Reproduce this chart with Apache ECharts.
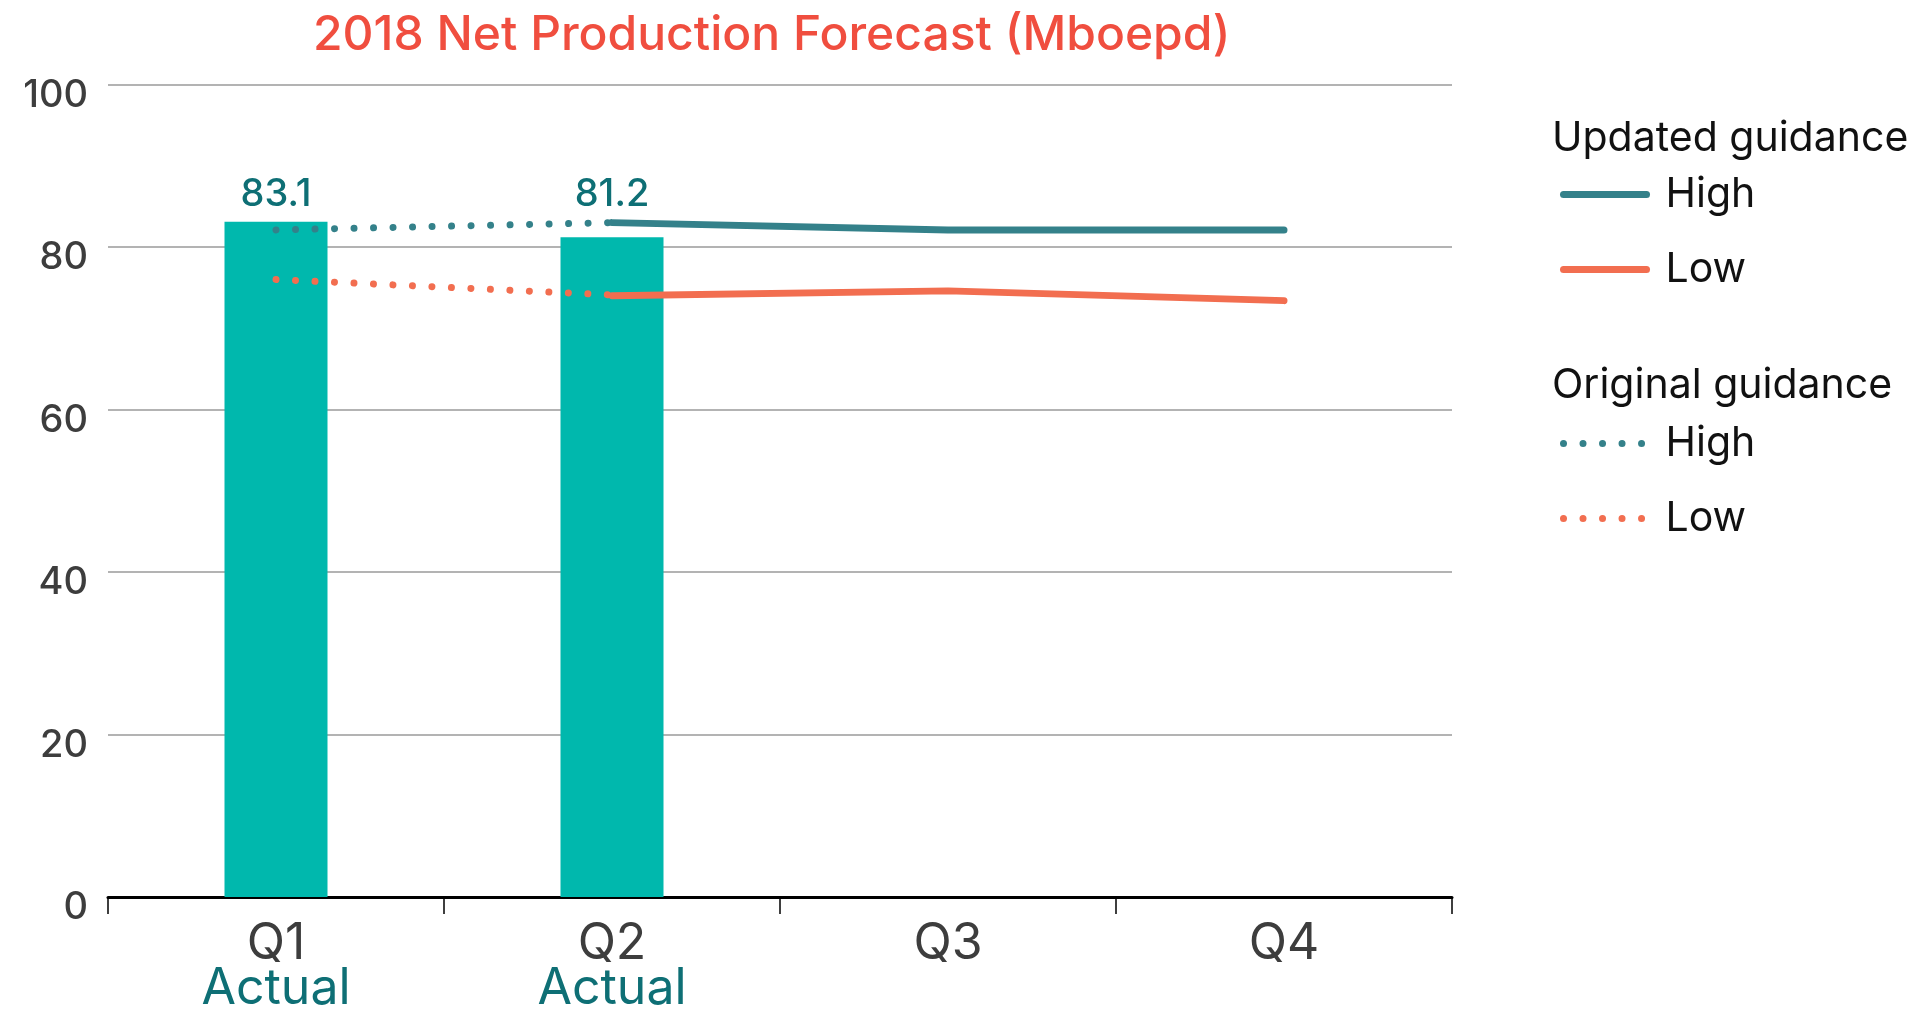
<!DOCTYPE html>
<html>
<head>
<meta charset="utf-8">
<title>2018 Net Production Forecast</title>
<script src="https://cdn.jsdelivr.net/npm/echarts@6/dist/echarts.min.js"></script>
<style>
  html, body { margin: 0; padding: 0; background: #ffffff; }
  #chart { width: 1919px; height: 1012px; }
</style>
</head>
<body>
<div id="chart"></div>
<script>
// Quarters and their sub-captions
const quarters = ['Q1', 'Q2', 'Q3', 'Q4'];
const quarterNotes = ['Actual', 'Actual', '', ''];

// Actual net production (Mboepd)
const actualValues = [83.1, 81.2, null, null];

// Updated guidance range
const updatedHigh = [null, 83.0, 82.1, 82.1];
const updatedLow = [null, 74.0, 74.6, 73.4];

// Original guidance range
const originalHigh = [82.1, 83.0, null, null];
const originalLow = [76.0, 74.1, null, null];

// Y axis
const yTicks = [0, 20, 40, 60, 80, 100];

const FONT = 'Inter, "Open Sans", sans-serif';
const TEAL_BAR = '#00B8AD';
const TEAL_LINE = '#34818A';
const CORAL = '#F26E50';
const TEAL_TEXT = '#0E6F75';
const DOTS = [0.01, 19.5];

// Plot area
const CHART_H = 1012;
const GRID_TOP = 84.5;
const GRID_BOTTOM = 115;
const Y_MIN = yTicks[0];
const Y_MAX = yTicks[yTicks.length - 1];
const PX_PER_UNIT = (CHART_H - GRID_TOP - GRID_BOTTOM) / (Y_MAX - Y_MIN);

// Value labels sit on one common line above the tallest bar
const tallest = Math.max(...actualValues.filter(v => v != null));
const barData = actualValues.map(v => v == null ? null : {
  value: v,
  label: { distance: 8 + (tallest - v) * PX_PER_UNIT }
});

const chart = echarts.init(document.getElementById('chart'), null, { renderer: 'canvas' });

const lineSeries = (name, data, color, dashed, z) => ({
  name: name,
  type: 'line',
  data: data,
  symbol: 'none',
  showSymbol: false,
  connectNulls: false,
  z: z,
  itemStyle: { color: color },
  lineStyle: {
    color: color,
    width: 7,
    type: dashed ? DOTS : 'solid',
    cap: 'round',
    join: 'round'
  },
  emphasis: { disabled: true }
});

const legendBase = {
  orient: 'vertical',
  left: 1560,
  itemWidth: 83,
  itemHeight: 40,
  itemGap: 34,
  padding: 0,
  selectedMode: false,
  formatter: name => name.split(' ')[1],
  itemStyle: { color: 'rgba(0,0,0,0)', borderWidth: 0 },
  textStyle: {
    fontFamily: FONT,
    fontSize: 41,
    color: '#111111',
    padding: [0, 0, 0, 14]
  }
};

chart.setOption({
  animation: false,
  backgroundColor: '#ffffff',
  title: [
    {
      text: '2018 Net Production Forecast (Mboepd)',
      left: 313,
      top: 12,
      padding: 0,
      textStyle: { fontFamily: FONT, fontSize: 48, fontWeight: 500, color: '#F04E3F' }
    },
    {
      text: 'Updated guidance',
      left: 1552,
      top: 118,
      padding: 0,
      textStyle: { fontFamily: FONT, fontSize: 41, fontWeight: 'normal', color: '#111111' }
    },
    {
      text: 'Original guidance',
      left: 1552,
      top: 365,
      padding: 0,
      textStyle: { fontFamily: FONT, fontSize: 41, fontWeight: 'normal', color: '#111111' }
    }
  ],
  legend: [
    Object.assign({}, legendBase, {
      top: 174,
      data: ['Updated High', 'Updated Low'],
      lineStyle: { width: 7, cap: 'round', type: 'solid' }
    }),
    Object.assign({}, legendBase, {
      top: 423,
      data: ['Original High', 'Original Low'],
      lineStyle: { width: 7, cap: 'round', type: DOTS }
    })
  ],
  grid: {
    left: 108,
    right: 467,
    top: GRID_TOP,
    bottom: GRID_BOTTOM,
    containLabel: false,
    outerBoundsMode: 'none'
  },
  xAxis: {
    type: 'category',
    data: quarters,
    boundaryGap: true,
    axisLine: { show: true, lineStyle: { color: '#000000', width: 3 } },
    axisTick: { show: true, length: 17, lineStyle: { color: '#000000', width: 1.5 } },
    axisLabel: {
      margin: 24,
      interval: 0,
      formatter: (value, idx) => quarterNotes[idx]
        ? '{q|' + value + '}\n{a|' + quarterNotes[idx] + '}'
        : '{q|' + value + '}',
      rich: {
        q: { fontFamily: FONT, fontSize: 50, color: '#3d3d3d', lineHeight: 45, align: 'center' },
        a: { fontFamily: FONT, fontSize: 50, color: TEAL_TEXT, lineHeight: 45, align: 'center' }
      }
    },
    splitLine: { show: false }
  },
  yAxis: {
    type: 'value',
    min: Y_MIN,
    max: Y_MAX,
    interval: yTicks[1] - yTicks[0],
    axisLine: { show: false },
    axisTick: { show: false },
    axisLabel: {
      margin: 20,
      verticalAlign: 'top',
      lineHeight: 22,
      fontFamily: FONT,
      fontSize: 38,
      fontWeight: 500,
      color: '#3d3d3d'
    },
    splitLine: { show: true, lineStyle: { color: '#9a9a9a', width: 1.5 } }
  },
  series: [
    {
      name: 'Actual',
      type: 'bar',
      data: barData,
      barWidth: 103,
      z: 2,
      itemStyle: { color: TEAL_BAR },
      label: {
        show: true,
        position: 'top',
        distance: 8,
        fontFamily: FONT,
        fontSize: 38,
        fontWeight: 500,
        color: TEAL_TEXT,
        formatter: p => Number(p.value).toFixed(1)
      },
      emphasis: { disabled: true }
    },
    lineSeries('Original High', originalHigh, TEAL_LINE, true, 3),
    lineSeries('Original Low', originalLow, CORAL, true, 3),
    lineSeries('Updated High', updatedHigh, TEAL_LINE, false, 4),
    lineSeries('Updated Low', updatedLow, CORAL, false, 4)
  ]
});
</script>
</body>
</html>
